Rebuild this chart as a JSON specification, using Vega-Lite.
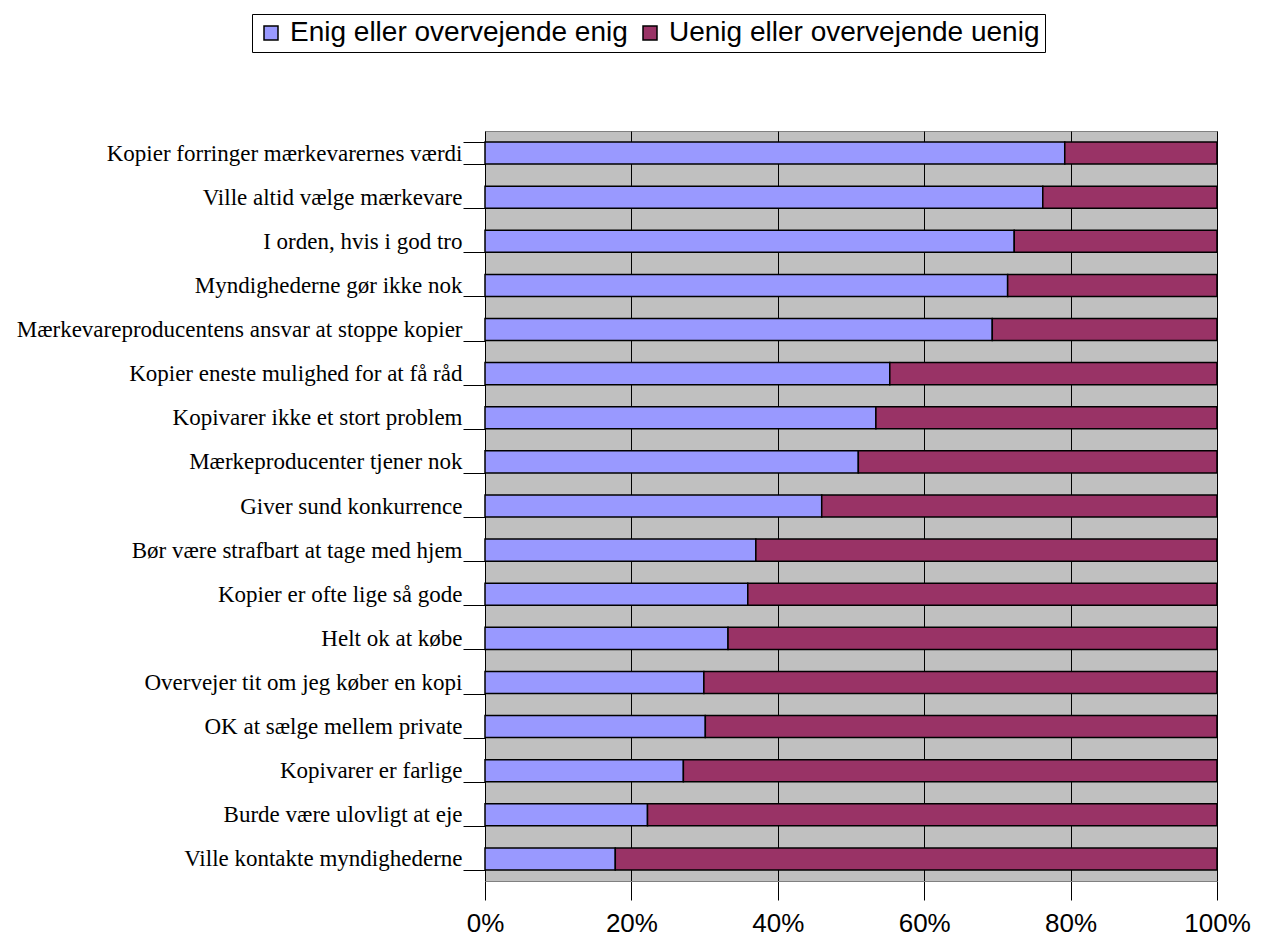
{
  "$schema": "https://vega.github.io/schema/vega-lite/v6.json",
  "autosize": "none",
  "width": 732,
  "height": 750,
  "padding": {"left": 485, "top": 131, "right": 47, "bottom": 58},
  "background": "white",
  "view": {"fill": "#C0C0C0", "stroke": "#808080", "strokeWidth": 1},
  "data": {
    "values": [
      {"statement": "Kopier forringer mærkevarernes værdi", "answer": "Enig eller overvejende enig", "pct": 79.2},
      {"statement": "Kopier forringer mærkevarernes værdi", "answer": "Uenig eller overvejende uenig", "pct": 20.8},
      {"statement": "Ville altid vælge mærkevare", "answer": "Enig eller overvejende enig", "pct": 76.2},
      {"statement": "Ville altid vælge mærkevare", "answer": "Uenig eller overvejende uenig", "pct": 23.8},
      {"statement": "I orden, hvis i god tro", "answer": "Enig eller overvejende enig", "pct": 72.3},
      {"statement": "I orden, hvis i god tro", "answer": "Uenig eller overvejende uenig", "pct": 27.7},
      {"statement": "Myndighederne gør ikke nok", "answer": "Enig eller overvejende enig", "pct": 71.4},
      {"statement": "Myndighederne gør ikke nok", "answer": "Uenig eller overvejende uenig", "pct": 28.6},
      {"statement": "Mærkevareproducentens ansvar at stoppe kopier", "answer": "Enig eller overvejende enig", "pct": 69.3},
      {"statement": "Mærkevareproducentens ansvar at stoppe kopier", "answer": "Uenig eller overvejende uenig", "pct": 30.7},
      {"statement": "Kopier eneste mulighed for at få råd", "answer": "Enig eller overvejende enig", "pct": 55.3},
      {"statement": "Kopier eneste mulighed for at få råd", "answer": "Uenig eller overvejende uenig", "pct": 44.7},
      {"statement": "Kopivarer ikke et stort problem", "answer": "Enig eller overvejende enig", "pct": 53.4},
      {"statement": "Kopivarer ikke et stort problem", "answer": "Uenig eller overvejende uenig", "pct": 46.6},
      {"statement": "Mærkeproducenter tjener nok", "answer": "Enig eller overvejende enig", "pct": 51.0},
      {"statement": "Mærkeproducenter tjener nok", "answer": "Uenig eller overvejende uenig", "pct": 49.0},
      {"statement": "Giver sund konkurrence", "answer": "Enig eller overvejende enig", "pct": 46.0},
      {"statement": "Giver sund konkurrence", "answer": "Uenig eller overvejende uenig", "pct": 54.0},
      {"statement": "Bør være strafbart at tage med hjem", "answer": "Enig eller overvejende enig", "pct": 37.0},
      {"statement": "Bør være strafbart at tage med hjem", "answer": "Uenig eller overvejende uenig", "pct": 63.0},
      {"statement": "Kopier er ofte lige så gode", "answer": "Enig eller overvejende enig", "pct": 35.9},
      {"statement": "Kopier er ofte lige så gode", "answer": "Uenig eller overvejende uenig", "pct": 64.1},
      {"statement": "Helt ok at købe", "answer": "Enig eller overvejende enig", "pct": 33.2},
      {"statement": "Helt ok at købe", "answer": "Uenig eller overvejende uenig", "pct": 66.8},
      {"statement": "Overvejer tit om jeg køber en kopi", "answer": "Enig eller overvejende enig", "pct": 29.9},
      {"statement": "Overvejer tit om jeg køber en kopi", "answer": "Uenig eller overvejende uenig", "pct": 70.1},
      {"statement": "OK at sælge mellem private", "answer": "Enig eller overvejende enig", "pct": 30.1},
      {"statement": "OK at sælge mellem private", "answer": "Uenig eller overvejende uenig", "pct": 69.9},
      {"statement": "Kopivarer er farlige", "answer": "Enig eller overvejende enig", "pct": 27.1},
      {"statement": "Kopivarer er farlige", "answer": "Uenig eller overvejende uenig", "pct": 72.9},
      {"statement": "Burde være ulovligt at eje", "answer": "Enig eller overvejende enig", "pct": 22.2},
      {"statement": "Burde være ulovligt at eje", "answer": "Uenig eller overvejende uenig", "pct": 77.8},
      {"statement": "Ville kontakte myndighederne", "answer": "Enig eller overvejende enig", "pct": 17.8},
      {"statement": "Ville kontakte myndighederne", "answer": "Uenig eller overvejende uenig", "pct": 82.2}
    ]
  },
  "mark": {"type": "bar", "stroke": "black", "strokeWidth": 1.5},
  "encoding": {
    "y": {
      "field": "statement",
      "type": "nominal",
      "sort": null,
      "scale": {"paddingInner": 0.5, "paddingOuter": 0.25},
      "axis": {
        "title": null,
        "tickBand": "extent",
        "tickSize": 22,
        "tickColor": "black",
        "tickWidth": 1,
        "domain": false,
        "labelPadding": 1,
        "labelFont": "Liberation Serif",
        "labelFontSize": 23,
        "labelColor": "black",
        "labelLimit": 600
      }
    },
    "x": {
      "field": "pct",
      "type": "quantitative",
      "stack": "normalize",
      "scale": {"domain": [0, 1], "nice": false},
      "axis": {
        "title": null,
        "format": ".0%",
        "values": [0, 0.2, 0.4, 0.6, 0.8, 1],
        "grid": true,
        "gridColor": "black",
        "gridWidth": 1,
        "tickSize": 19,
        "tickColor": "black",
        "domainColor": "#808080",
        "labelFlush": false,
        "labelFont": "Liberation Sans",
        "labelFontSize": 26,
        "labelColor": "black",
        "labelPadding": 10
      }
    },
    "color": {
      "field": "answer",
      "type": "nominal",
      "scale": {
        "domain": ["Enig eller overvejende enig", "Uenig eller overvejende uenig"],
        "range": ["#9999FF", "#993366"]
      },
      "legend": {
        "title": null,
        "orient": "none",
        "legendX": -233,
        "legendY": -117,
        "direction": "horizontal",
        "symbolType": "square",
        "symbolSize": 196,
        "symbolStrokeColor": "black",
        "symbolStrokeWidth": 1.5,
        "labelFont": "Liberation Sans",
        "labelFontSize": 28,
        "labelColor": "black",
        "labelLimit": 600,
        "columnPadding": 8,
        "labelOffset": 5,
        "strokeColor": "black",
        "fillColor": "white",
        "padding": 5
      }
    },
    "order": {"field": "answer", "sort": "ascending"}
  }
}
